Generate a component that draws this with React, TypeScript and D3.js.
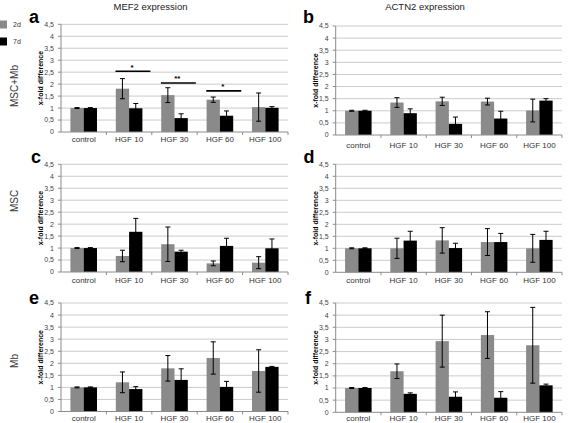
import * as d3 from 'd3';

const categories = ['control', 'HGF 10', 'HGF 30', 'HGF 60', 'HGF 100'];
const yTicks = [0, 0.5, 1, 1.5, 2, 2.5, 3, 3.5, 4, 4.5];
const seriesNames = ['2d', '7d'];
const rowLabels = ['MSC+Mb', 'MSC', 'Mb'];
const columnTitles = ['MEF2 expression', 'ACTN2 expression'];

// a: MEF2, MSC+Mb
const aMean2d = [1.0, 1.81, 1.54, 1.35, 1.04];
const aErr2d = [0.02, 0.42, 0.31, 0.11, 0.59];
const aMean7d = [1.0, 0.99, 0.58, 0.68, 1.01];
const aErr7d = [0.02, 0.2, 0.18, 0.2, 0.05];
// b: ACTN2, MSC+Mb
const bMean2d = [1.0, 1.34, 1.39, 1.38, 1.01];
const bErr2d = [0.02, 0.2, 0.17, 0.14, 0.47];
const bMean7d = [1.0, 0.9, 0.46, 0.68, 1.42];
const bErr7d = [0.02, 0.18, 0.28, 0.3, 0.08];
// c: MEF2, MSC
const cMean2d = [1.0, 0.67, 1.16, 0.36, 0.39];
const cErr2d = [0.02, 0.24, 0.72, 0.1, 0.25];
const cMean7d = [1.0, 1.68, 0.85, 1.09, 0.99];
const cErr7d = [0.02, 0.56, 0.06, 0.32, 0.39];
// d: ACTN2, MSC
const dMean2d = [1.0, 1.0, 1.33, 1.26, 1.0];
const dErr2d = [0.02, 0.42, 0.53, 0.56, 0.58];
const dMean7d = [1.0, 1.32, 1.01, 1.26, 1.35];
const dErr7d = [0.02, 0.39, 0.2, 0.36, 0.36];
// e: MEF2, Mb
const eMean2d = [1.0, 1.21, 1.79, 2.22, 1.68];
const eErr2d = [0.02, 0.43, 0.53, 0.67, 0.88];
const eMean7d = [1.0, 0.93, 1.31, 1.02, 1.85];
const eErr7d = [0.02, 0.1, 0.46, 0.23, 0.02];
// f: ACTN2, Mb
const fMean2d = [1.0, 1.69, 2.93, 3.18, 2.76];
const fErr2d = [0.02, 0.3, 1.07, 0.96, 1.56];
const fMean7d = [1.0, 0.76, 0.64, 0.6, 1.11];
const fErr7d = [0.02, 0.04, 0.2, 0.25, 0.05];

// significance brackets in panel a
const sigCategories = ['HGF 10', 'HGF 30', 'HGF 60'];
const sigLevels = [2.54, 2.05, 1.72];
const sigMarks = ['*', '**', '*'];

const FONT = 'Liberation Sans, Arial, Helvetica, sans-serif';
const GRAY = '#8a8a8a';

interface PanelProps {
  left: number;
  right: number;
  top: number;
  bottom: number;
  mean2d: number[];
  err2d: number[];
  mean7d: number[];
  err7d: number[];
  letter: string;
  letterX: number;
  letterY: number;
  labelY: number;
  showSig?: boolean;
}

function Panel({
  left, right, top, bottom, mean2d, err2d, mean7d, err7d,
  letter, letterX, letterY, labelY, showSig = false,
}: PanelProps) {
  const x = d3.scaleBand().domain(categories).range([left, right]);
  const y = d3.scaleLinear().domain([0, 4.5]).range([bottom, top]);
  const bw = x.bandwidth();
  const barW = bw * 0.293;

  const bars = categories.flatMap((c, i) => {
    const cx = (x(c) || 0) + bw / 2;
    return [
      { key: `${c}-2d`, x: cx - barW, mean: mean2d[i], err: err2d[i], fill: GRAY },
      { key: `${c}-7d`, x: cx, mean: mean7d[i], err: err7d[i], fill: '#000' },
    ];
  });

  return (
    <g>
      <text x={letterX} y={letterY} fontFamily={FONT} fontWeight="bold" fontSize={18}>
        {letter}
      </text>

      {/* grid */}
      {yTicks.filter(t => t > 0).map(t => (
        <line key={t} x1={left} x2={right} y1={y(t)} y2={y(t)} stroke="#cbcbcb" strokeWidth={1} />
      ))}

      {/* y axis */}
      <line x1={left} x2={left} y1={top} y2={bottom} stroke="#8c8c8c" />
      {yTicks.map(t => (
        <g key={t}>
          <line x1={left - 3} x2={left} y1={y(t)} y2={y(t)} stroke="#8c8c8c" />
          <text x={left - 7} y={y(t)} dy="0.35em" textAnchor="end" fontFamily={FONT} fontSize={7} fill="#444">
            {String(t).replace('.', ',')}
          </text>
        </g>
      ))}
      <text
        transform={`translate(${left - 20},${(top + bottom) / 2}) rotate(-90)`}
        textAnchor="middle"
        dy="0.35em"
        fontFamily={FONT}
        fontWeight="bold"
        fontSize={7}
      >
        x-fold difference
      </text>

      {/* bars */}
      {bars.map(b => (
        <rect key={b.key} x={b.x} y={y(b.mean)} width={barW} height={bottom - y(b.mean)} fill={b.fill} />
      ))}

      {/* error bars */}
      {bars.map(b => {
        const cx = b.x + barW / 2;
        const y1 = y(b.mean + b.err);
        const y2 = y(Math.max(0, b.mean - b.err));
        return (
          <g key={`e-${b.key}`} stroke="#000" strokeWidth={1}>
            <line x1={cx} x2={cx} y1={y1} y2={y2} />
            <line x1={cx - 2.5} x2={cx + 2.5} y1={y1} y2={y1} />
            <line x1={cx - 2.5} x2={cx + 2.5} y1={y2} y2={y2} />
          </g>
        );
      })}

      {/* x axis */}
      <line x1={left} x2={right} y1={bottom} y2={bottom} stroke="#8c8c8c" />
      {categories.map((c, i) => (
        <line key={`t${i}`} x1={(x(c) || 0) + bw} x2={(x(c) || 0) + bw} y1={bottom} y2={bottom + 3} stroke="#8c8c8c" />
      ))}
      {categories.map(c => (
        <text
          key={`l-${c}`}
          x={(x(c) || 0) + bw / 2}
          y={labelY}
          textAnchor="middle"
          fontFamily={FONT}
          fontSize={8}
          fill="#333"
        >
          {c}
        </text>
      ))}

      {showSig && sigCategories.map((c, i) => {
        const x0 = (x(c) || 0) + bw * 0.2;
        const x1 = (x(c) || 0) + bw * 0.97;
        const yy = y(sigLevels[i]);
        return (
          <g key={`s-${c}`}>
            <line x1={x0} x2={x1} y1={yy} y2={yy} stroke="#000" strokeWidth={1.6} />
            <text x={(x0 + x1) / 2 - 1} y={yy - 1.5} textAnchor="middle" fontFamily={FONT} fontSize={8} fontWeight="bold">
              {sigMarks[i]}
            </text>
          </g>
        );
      })}
    </g>
  );
}

export default function App() {
  return (
    <svg
      width={568}
      height={423}
      style={{ position: 'absolute', left: 0, top: 0, background: '#fff' }}
    >
      {/* legend */}
      <rect x={-1} y={20.5} width={8} height={8} fill={GRAY} />
      <rect x={-1} y={37.5} width={8} height={8} fill="#000" />
      <text x={13} y={27} fontFamily={FONT} fontSize={7} fill="#333">{seriesNames[0]}</text>
      <text x={13} y={44} fontFamily={FONT} fontSize={7} fill="#333">{seriesNames[1]}</text>

      {/* column titles */}
      <text x={150.5} y={10} textAnchor="middle" fontFamily={FONT} fontSize={9.5} fill="#222">{columnTitles[0]}</text>
      <text x={425} y={10} textAnchor="middle" fontFamily={FONT} fontSize={9.5} fill="#222">{columnTitles[1]}</text>

      {/* row labels */}
      {[86, 201, 361].map((cy, i) => (
        <text
          key={rowLabels[i]}
          transform={`translate(17.5,${cy}) rotate(-90)`}
          textAnchor="middle"
          fontFamily={FONT}
          fontSize={10}
          fill="#333"
        >
          {rowLabels[i]}
        </text>
      ))}

      <Panel left={61} right={288} top={24.3} bottom={132} mean2d={aMean2d} err2d={aErr2d} mean7d={aMean7d} err7d={aErr7d}
        letter="a" letterX={29} letterY={23.3} labelY={142} showSig />
      <Panel left={335.7} right={562} top={26} bottom={135} mean2d={bMean2d} err2d={bErr2d} mean7d={bMean7d} err7d={bErr7d}
        letter="b" letterX={303} letterY={23.3} labelY={148} />
      <Panel left={61} right={288} top={164.3} bottom={272} mean2d={cMean2d} err2d={cErr2d} mean7d={cMean7d} err7d={cErr7d}
        letter="c" letterX={31} letterY={163.3} labelY={282.5} />
      <Panel left={335.7} right={562} top={164.3} bottom={272.3} mean2d={dMean2d} err2d={dErr2d} mean7d={dMean7d} err7d={dErr7d}
        letter="d" letterX={303.5} letterY={163.3} labelY={282.5} />
      <Panel left={61} right={288} top={303} bottom={411.5} mean2d={eMean2d} err2d={eErr2d} mean7d={eMean7d} err7d={eErr7d}
        letter="e" letterX={29} letterY={303.5} labelY={421} />
      <Panel left={335.7} right={562} top={303} bottom={412.3} mean2d={fMean2d} err2d={fErr2d} mean7d={fMean7d} err7d={fErr7d}
        letter="f" letterX={305} letterY={303.5} labelY={421} />
    </svg>
  );
}
